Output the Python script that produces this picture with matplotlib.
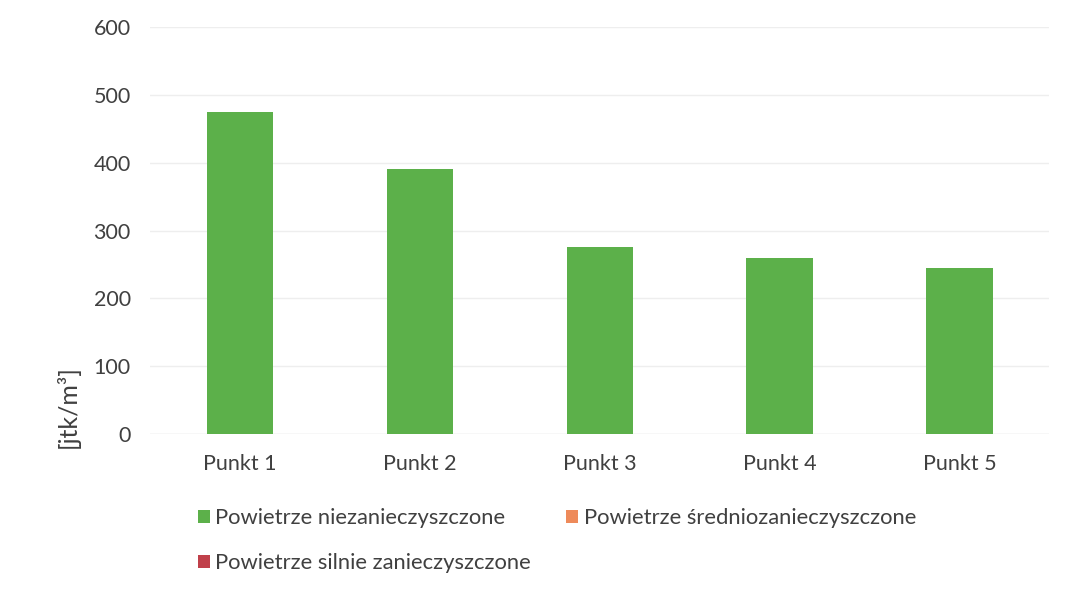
import matplotlib.pyplot as plt
from matplotlib.patches import Patch

categories = ['Punkt 1', 'Punkt 2', 'Punkt 3', 'Punkt 4', 'Punkt 5']
clean_air = [475, 390, 275, 260, 245]
medium_air = [0, 0, 0, 0, 0]
heavy_air = [0, 0, 0, 0, 0]
series_names = ['Powietrze niezanieczyszczone', 'Powietrze średniozanieczyszczone',
                'Powietrze silnie zanieczyszczone']
y_ticks = [0, 100, 200, 300, 400, 500, 600]

colors = ['#5cb04a', '#ee8a5a', '#c0404a']
text_color = '#404040'

plt.rcParams['font.family'] = ['Lato', 'DejaVu Sans']

fig = plt.figure(figsize=(10.73, 5.98), dpi=100)
ax = fig.add_axes([0.14, 0.274, 0.838, 0.681])

x = list(range(len(categories)))
ax.bar(x, clean_air, width=0.37, color=colors[0], zorder=3)

ax.set_xlim(-0.5, len(categories) - 0.5)
ax.set_ylim(0, 600)
ax.set_yticks(y_ticks)
ax.set_xticks(x)
ax.set_xticklabels(categories)
ax.tick_params(axis='both', length=0, labelsize=15.5, colors=text_color)
ax.tick_params(axis='y', pad=14)
ax.tick_params(axis='x', pad=14)
ax.grid(axis='y', color='#eeeeee', linewidth=1, zorder=0)
for s in ax.spines.values():
    s.set_visible(False)
ax.axhline(0, color='#e6e6e6', linewidth=1, zorder=1)

fig.text(0.063, 0.32, '[jtk/m³]', rotation=90, ha='center', va='center',
         fontsize=18, color=text_color)

# ncol=2 fills column by column, so order handles to match the reference layout
order = [0, 2, 1]
handles = [Patch(facecolor=colors[i], edgecolor='none') for i in order]
labels = [series_names[i] for i in order]
fig.legend(handles, labels, loc='upper left', bbox_to_anchor=(0.176, 0.165),
           ncol=2, frameon=False, fontsize=15.8, labelcolor=text_color,
           handlelength=0.55, handleheight=0.55, handletextpad=0.25,
           columnspacing=1.6, labelspacing=1.15, borderaxespad=0)

fig.savefig('out.png', dpi=100)
